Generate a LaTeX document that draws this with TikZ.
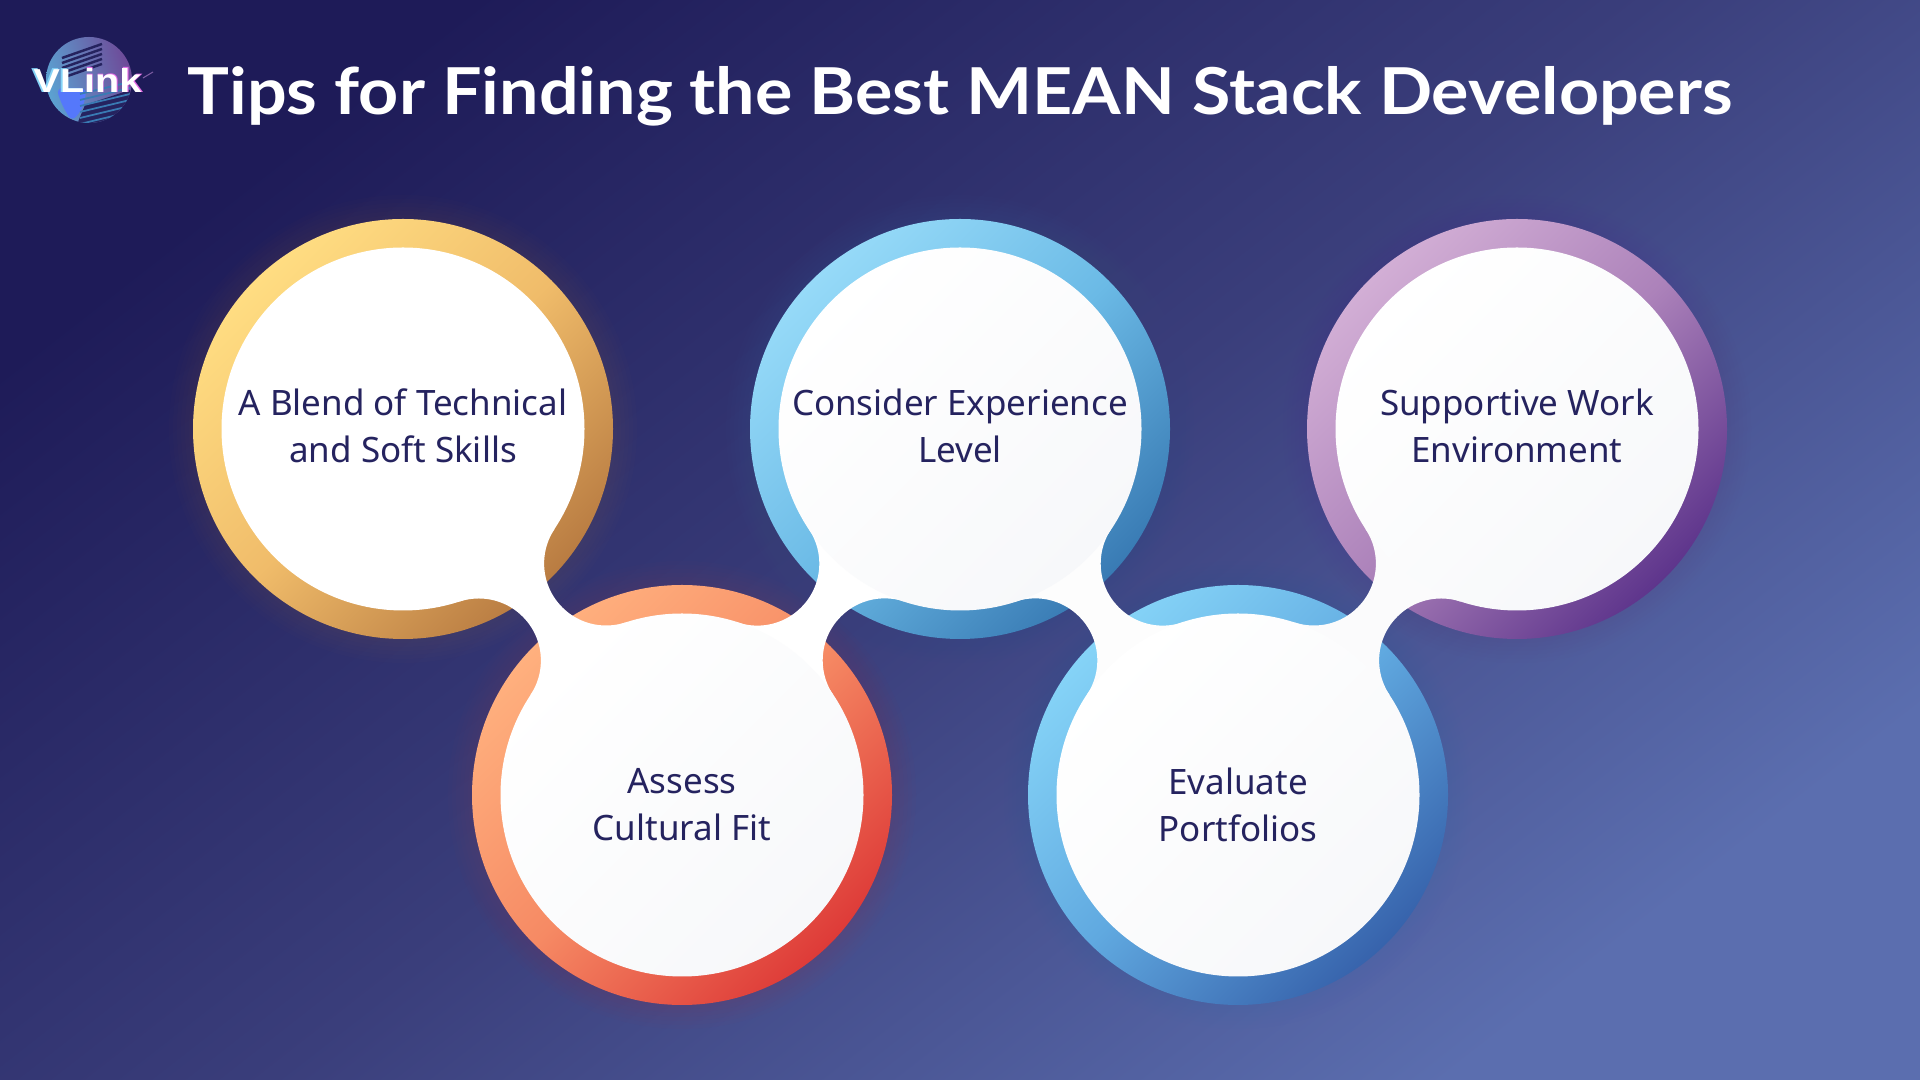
\documentclass[tikz,border=0pt]{standalone}
\usepackage{fontspec}
\usepackage{xcolor}
\usetikzlibrary{calc}
\setmainfont{Noto Sans}
\newfontfamily\logofont{Liberation Sans}
\newfontfamily\titlefont{Lato}
\definecolor{bgdark}{HTML}{1E1B58}
\definecolor{bgmid}{HTML}{3A3E7B}
\definecolor{bglight}{HTML}{5B6EAF}
\definecolor{inkblue}{HTML}{25235F}
\definecolor{paper}{HTML}{F7F8FA}
\definecolor{yellowa}{HTML}{FFDD82}
\definecolor{yellowm}{HTML}{F0BC6A}
\definecolor{yellowb}{HTML}{B97C42}
\definecolor{reda}{HTML}{FFB07E}
\definecolor{redm}{HTML}{F68A64}
\definecolor{redb}{HTML}{DE3B38}
\definecolor{bluea}{HTML}{96DAF8}
\definecolor{bluem}{HTML}{6BBAE6}
\definecolor{blueb}{HTML}{397BB4}
\definecolor{skya}{HTML}{85D3F7}
\definecolor{skym}{HTML}{60A9E0}
\definecolor{skyb}{HTML}{3763AC}
\definecolor{purplea}{HTML}{D2AED5}
\definecolor{purplem}{HTML}{AC82BA}
\definecolor{purpleb}{HTML}{5E358C}
\tikzset{
  ringdisc/.style={circle,minimum size=4.2cm,inner sep=0pt},
  innerdisc/.style={circle,minimum size=3.63cm,inner sep=0pt,top color=white,bottom color=#1,shading angle=45},
  caption/.style={inner sep=0pt,align=center,text=inkblue,font=\fontsize{9.95}{13.4}\selectfont},
  titletext/.style={anchor=base west,inner sep=0pt,text=white,font=\titlefont\bfseries\fontsize{18.4}{22}\selectfont}
}
\begin{document}
\begin{tikzpicture}
  \useasboundingbox (0,0) rectangle (19.2,10.8);
  \shade[top color=bgdark,bottom color=bglight,middle color=bgmid,shading angle=38] (0,0) rectangle (19.2,10.8);
  % logo
  \begin{scope}
    \clip (0.89,10) circle (.43);
    \shade[top color=purpleb!90!white,bottom color=skya!45!blueb,shading angle=-75] (0.46,9.57) rectangle (1.32,10.43);
    \fill[inkblue] (0.78,9.58) -- (0.85,9.75) -- (1.30,9.90) -- (1.25,9.50) -- cycle;
    \fill[skya!50!blue!90!white,rounded corners=2pt] (0.56,9.92) -- (0.87,9.92) -- (0.83,9.72) -- (0.72,9.58) -- (0.62,9.75) -- cycle;
    \foreach \y in {9.56,9.62,...,9.86}
      \draw[blueb,line width=.5pt] (0.80,\y) -- (1.30,\y+.12);
    \foreach \y in {10.10,10.15,...,10.30}
      \draw[inkblue,line width=.7pt] (0.62,\y-.08) -- (1.02,\y+.06);
  \end{scope}
  \draw[purpleb!80!white,line width=.3pt] (1.43,10.02) -- (1.53,10.08);
  \node[inner sep=0pt,font=\logofont\bfseries\fontsize{9.4}{10}\selectfont] (vlinkglow) at (0.875,10.0) {\scalebox{1.25}[1.05]{\textcolor{skya}{VL}\textcolor{purplea!60!magenta}{ink}}};
  \node[inner sep=0pt,text=white,font=\logofont\bfseries\fontsize{9}{10}\selectfont] (vlink) at (0.875,10.0) {\scalebox{1.25}[1.05]{VLink}};
  \node[titletext] (title) at (1.87,9.65) {\scalebox{1.082}[1]{Tips for Finding the Best MEAN Stack Developers}};
  % rings with a soft glow
  \foreach \name/\x/\y/\cola/\colm/\colb in {blend/4.03/6.51/yellowa/yellowm/yellowb,assess/6.82/2.85/reda/redm/redb,
      consider/9.60/6.51/bluea/bluem/blueb,evaluate/12.38/2.85/skya/skym/skyb,support/15.17/6.51/purplea/purplem/purpleb}
  {
    \foreach \r in {2.14,2.18,...,2.34}
      \fill[\colb,opacity=.016] (\x,\y) circle (\r);
    \node[ringdisc,top color=\cola,bottom color=\colb,middle color=\colm,shading angle=45] (\name ring) at (\x,\y) {};
  }
  % white necks between the discs
  \foreach \a/\b/\c in {blend/assess/white,assess/consider/white!99!paper,
      consider/evaluate/white!70!paper,evaluate/support/white!50!paper}
  {
    \coordinate (fa) at ($(\a ring)!.5!(\b ring)!.8cm!90:(\b ring)$);
    \coordinate (fb) at ($(\a ring)!.5!(\b ring)!.8cm!-90:(\b ring)$);
    \begin{scope}
      \clip (\a ring.center) -- (fa) -- (\b ring.center) -- (fb) -- cycle;
      \fill[\c,even odd rule] (0,0) rectangle (19.2,10.8)
        (fa) circle (.62) (fb) circle (.62);
    \end{scope}
  }
  \node[innerdisc=white] (blend) at (blendring) {};
  \node[innerdisc=paper] (assess) at (assessring) {};
  \node[innerdisc=paper] (consider) at (considerring) {};
  \node[innerdisc=paper] (evaluate) at (evaluatering) {};
  \node[innerdisc=paper] (support) at (supportring) {};
  \node[caption] (blendtext) at ($(blend)+(0,.03)$) {A Blend of Technical\\and Soft Skills};
  \node[caption] (assesstext) at ($(assess)+(0,-.1)$) {Assess\\Cultural Fit};
  \node[caption] (considertext) at ($(consider)+(0,.03)$) {Consider Experience\\Level};
  \node[caption] (evaluatetext) at ($(evaluate)+(0,-.1)$) {Evaluate\\Portfolios};
  \node[caption] (supporttext) at ($(support)+(0,.03)$) {Supportive Work\\Environment};
\end{tikzpicture}
\end{document}
